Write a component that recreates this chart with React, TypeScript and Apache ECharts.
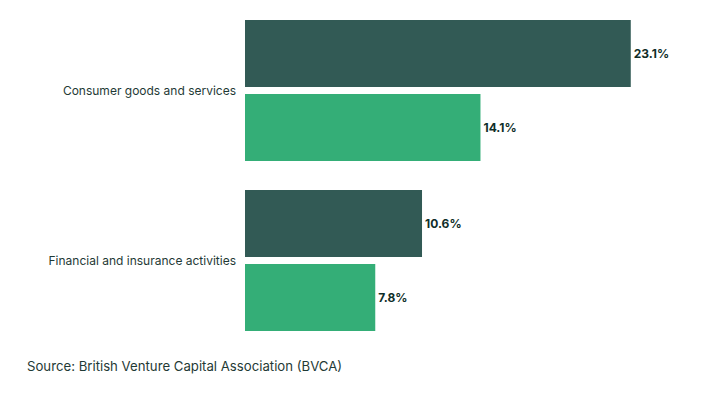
import React, { useEffect, useRef } from "react";
import * as echarts from "echarts";

const categories = ["Consumer goods and services", "Financial and insurance activities"];
const seriesA = [23.1, 10.6];
const seriesB = [14.1, 7.8];
const sourceText = "Source: British Venture Capital Association (BVCA)";

export default function App() {
  const ref = useRef<HTMLDivElement>(null);
  useEffect(() => {
    const chart = echarts.init(ref.current!, null, { renderer: "svg" });
    const labelCfg = {
      show: true,
      position: "right" as const,
      distance: 3,
      formatter: (p: any) => p.value.toFixed(1) + "%",
      color: "#0f2e29",
      fontWeight: "bold" as const,
      fontSize: 12,
      fontFamily: "Inter",
    };
    chart.setOption({
      animation: false,
      grid: { left: 245, top: 5.5, height: 340, width: 417.5 },
      xAxis: { type: "value", min: 0, max: 25, show: false },
      yAxis: {
        type: "category",
        data: categories,
        inverse: true,
        axisLine: { show: false },
        axisTick: { show: false },
        axisLabel: { color: "#1f3a36", fontSize: 12, fontFamily: "Inter", margin: 9 },
      },
      series: [
        {
          type: "bar",
          data: seriesA,
          barWidth: 67,
          barGap: "10.5%",
          itemStyle: { color: "#325a55" },
          label: labelCfg,
        },
        {
          type: "bar",
          data: seriesB,
          barWidth: 67,
          itemStyle: { color: "#34ae77" },
          label: labelCfg,
        },
      ],
      graphic: [
        {
          type: "text",
          left: 27,
          top: 359.5,
          style: { text: sourceText, fill: "#1f3a36", fontSize: 13.2, fontFamily: "Inter" },
        },
      ],
    });
    return () => chart.dispose();
  }, []);
  return <div ref={ref} style={{ width: 703, height: 395, position: "absolute", left: 0, top: 0 }} />;
}
